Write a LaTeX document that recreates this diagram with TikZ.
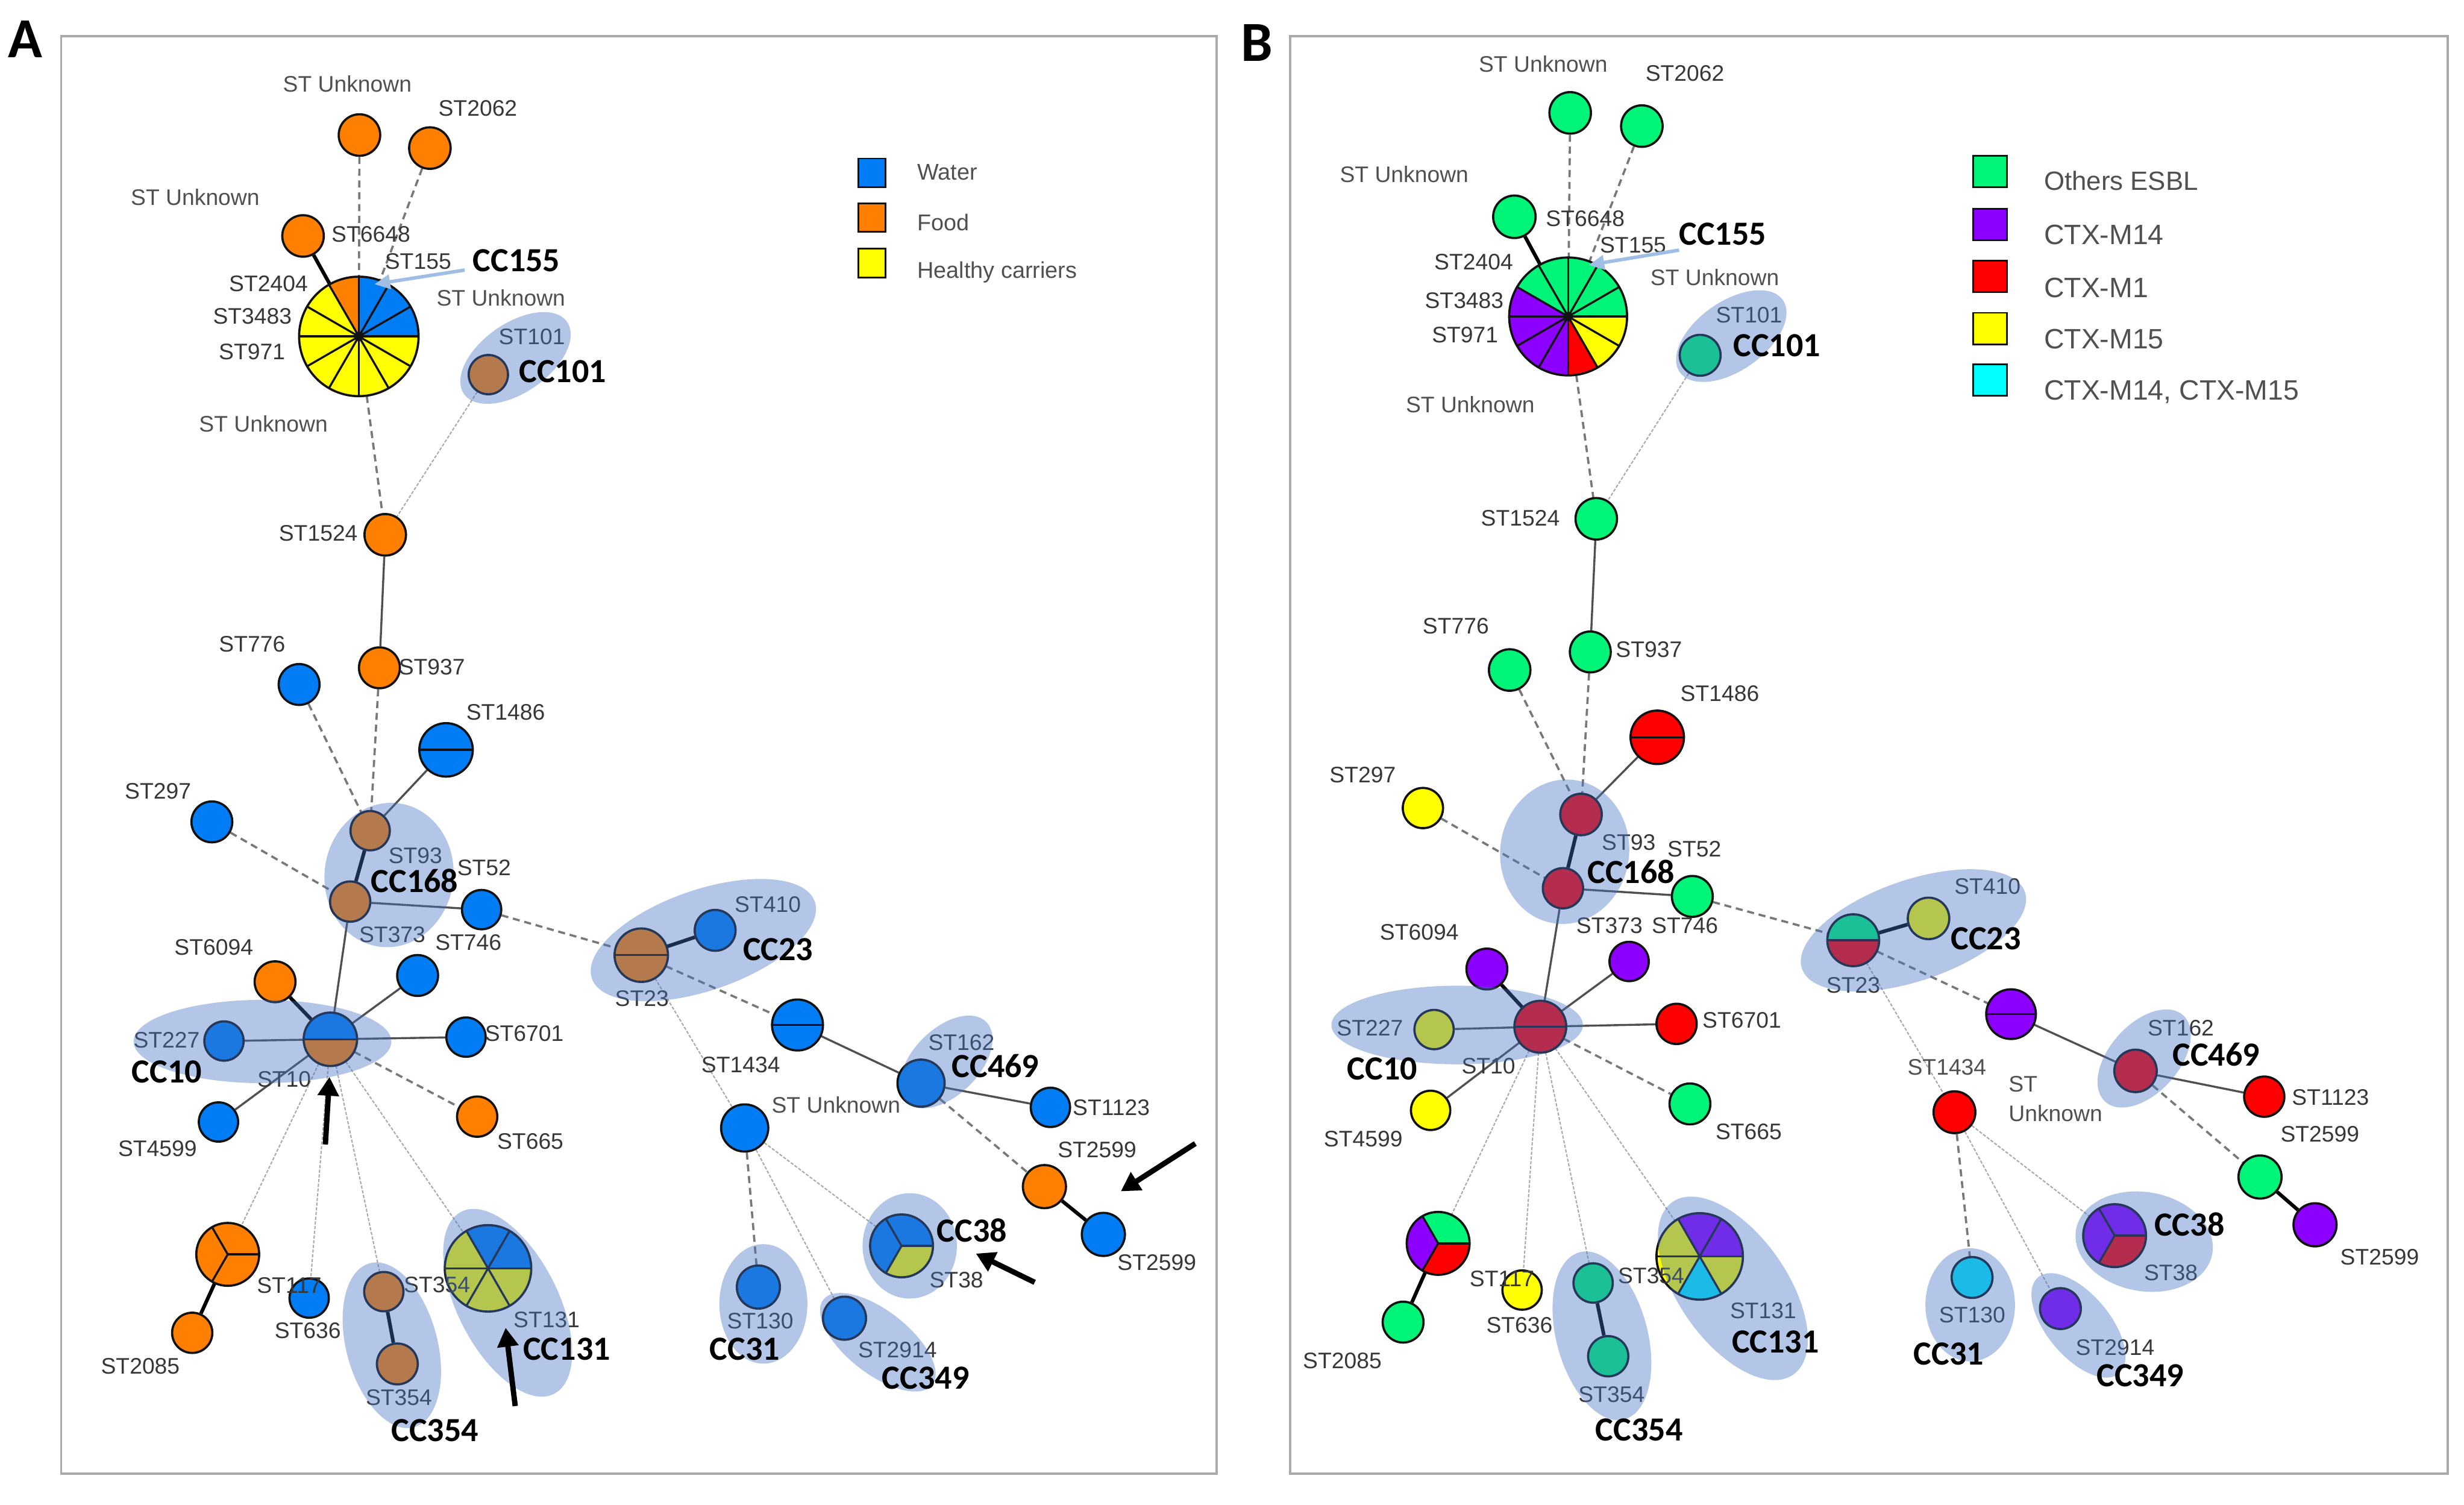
\documentclass[tikz,border=0pt]{standalone}
\usepackage{fontspec}
\setmainfont{Liberation Sans}
\newfontfamily\carl{Carlito}
\usetikzlibrary{shapes.geometric,arrows.meta}
\pgfdeclarelayer{bglayer}
\pgfdeclarelayer{edgelayer}
\pgfsetlayers{bglayer,edgelayer,main}
\definecolor{cB}{RGB}{0,125,245}
\definecolor{cO}{RGB}{255,128,0}
\definecolor{cY}{RGB}{255,255,0}
\definecolor{cG}{RGB}{0,245,120}
\definecolor{cP}{RGB}{140,0,255}
\definecolor{cR}{RGB}{255,0,0}
\definecolor{cC}{RGB}{0,235,255}
\definecolor{cCy}{RGB}{0,255,255}
\definecolor{ovl}{RGB}{68,114,196}
\definecolor{outl}{RGB}{18,18,18}
\definecolor{txt}{RGB}{55,55,55}
\definecolor{txtu}{RGB}{80,80,80}
\definecolor{legc}{RGB}{80,80,80}
\definecolor{edgec}{RGB}{80,80,80}
\definecolor{dashc}{RGB}{120,120,120}
\definecolor{thinc}{RGB}{170,170,170}
\definecolor{framec}{RGB}{170,170,170}
\definecolor{arrb}{RGB}{160,190,228}
\newcommand\pieslice[5]{\fill[#5] (#1.center) -- ++({-(#3)}:#2) arc[start angle={-(#3)}, end angle={-(#4)}, radius=#2] -- cycle;}
\newcommand\spokes[3]{\foreach \t in {#3} {\draw[draw=outl, line width=1.3pt] (#1.center) -- ++({-\t}:#2);}}
\newcommand\ring[2]{\draw[draw=outl, line width=1.4pt] (#1.center) circle[radius=#2];}
\newcommand\splitnd[7]{%
 \node[pien, minimum size=#5pt] (#1) at (#2,#3) {};
 \pieslice{#1}{#4}{0}{180}{#6}
 \pieslice{#1}{#4}{180}{360}{#7}
 \spokes{#1}{#4}{0,180}
 \ring{#1}{#4}}
\tikzset{
 stn/.style={circle, draw=outl, line width=1.4pt, inner sep=0pt},
 pien/.style={circle, draw=none, inner sep=0pt},
 lab/.style={inner sep=0pt, text=txt, font=\fontsize{14.3pt}{14.3pt}\selectfont, text height=10.2pt, text depth=0pt},
 labu/.style={lab, text=txtu},
 cclab/.style={inner sep=0pt, text=black, font=\carl\bfseries\fontsize{21.5pt}{21.5pt}\selectfont, text height=13.8pt, text depth=0pt},
 panl/.style={inner sep=0pt, text=black, font=\carl\bfseries\fontsize{36pt}{36pt}\selectfont, text height=23pt, text depth=0pt},
 ccov/.style={ellipse, fill=ovl, fill opacity=0.4, draw=none, inner sep=0pt},
 ethick/.style={draw=black, line width=2.3pt},
 emed/.style={draw=edgec, line width=1.3pt},
 edash/.style={draw=dashc, line width=1.4pt, dash pattern=on 4.5pt off 3pt},
 ethin/.style={draw=thinc, line width=0.8pt, dash pattern=on 2pt off 1pt},
 bigarrow/.style={-{Triangle[length=12pt,width=13pt]}, line width=3.4pt, draw=black},
 bluearrow/.style={-{Triangle[length=10pt,width=9pt]}, line width=2.2pt, draw=arrb, fill=arrb},
 legsq/.style={draw=outl, line width=1.1pt, inner sep=0pt},
 legA/.style={inner sep=0pt, anchor=west, text=legc, font=\fontsize{14.5pt}{14.5pt}\selectfont, text height=10.4pt, text depth=0pt},
 legB/.style={inner sep=0pt, anchor=west, text=legc, font=\fontsize{17.8pt}{17.8pt}\selectfont, text height=12.7pt, text depth=0pt},
 framest/.style={draw=framec, line width=1.5pt}
}
\begin{document}
\begin{tikzpicture}[x=1pt,y=-1pt]
\useasboundingbox (0,0) rectangle (1567.7,957);
\begin{pgfonlayer}{bglayer}
\fill[white] (0,0) rectangle (1567.7,957);
\end{pgfonlayer}
\draw[framest] (38.9,22.9) rectangle (774,937.5);
\draw[framest] (821,22.9) rectangle (1557.3,937.5);
\node[panl] (lblA) at (16.2,25.2) {A};
\node[panl] (lblB) at (799.5,27.5) {B};

% ================= PANEL A nodes =================
\node[stn, fill=cO, minimum size=26.4pt] (a-unk1) at (228.7,85.9) {};
\node[stn, fill=cO, minimum size=26.4pt] (a-2062) at (273.5,94.2) {};
\node[stn, fill=cO, minimum size=26.4pt] (a-6648) at (192.8,150.1) {};
\node[pien, minimum size=76pt] (a-pie) at (228.3,214) {};
\pieslice{a-pie}{38}{0}{90}{cB}
\pieslice{a-pie}{38}{90}{120}{cO}
\pieslice{a-pie}{38}{120}{360}{cY}
\spokes{a-pie}{38}{0,30,...,330}
\ring{a-pie}{38}
\fill[outl] (a-pie.center) circle[radius=3];
\node[stn, fill=cO, minimum size=25pt] (a-101) at (310.7,238.3) {};
\node[stn, fill=cO, minimum size=26.4pt] (a-1524) at (245.1,340.2) {};
\node[stn, fill=cO, minimum size=26pt] (a-937) at (241.4,424.8) {};
\node[stn, fill=cB, minimum size=26pt] (a-776) at (190.3,435.4) {};
\splitnd{a-1486}{283.8}{477}{17}{34}{cB}{cB}
\node[stn, fill=cB, minimum size=26pt] (a-297) at (134.8,522.8) {};
\node[stn, fill=cO, minimum size=25pt] (a-93) at (235.5,528.4) {};
\node[stn, fill=cO, minimum size=25.6pt] (a-373) at (222.8,573.5) {};
\node[stn, fill=cB, minimum size=25pt] (a-52) at (306.4,578.6) {};
\node[stn, fill=cO, minimum size=26pt] (a-6094) at (175,624.5) {};
\node[stn, fill=cB, minimum size=26pt] (a-b1) at (265.7,620.5) {};
\splitnd{a-10}{210.2}{661.1}{17}{34}{cB}{cO}
\node[stn, fill=cB, minimum size=25pt] (a-227) at (142.5,662.2) {};
\node[stn, fill=cB, minimum size=25pt] (a-6701) at (296.5,659.7) {};
\node[stn, fill=cO, minimum size=25.6pt] (a-665) at (303.6,710.3) {};
\node[stn, fill=cB, minimum size=25pt] (a-4599) at (139,713.7) {};
\splitnd{a-23}{408}{607.6}{17}{34}{cO}{cO}
\node[stn, fill=cB, minimum size=26pt] (a-410) at (455,591.8) {};
\splitnd{a-s2}{507.4}{652}{16.2}{32.4}{cB}{cB}
\node[stn, fill=cB, minimum size=30pt] (a-162) at (586,689) {};
\node[stn, fill=cB, minimum size=25pt] (a-1123) at (668.3,704.4) {};
\node[stn, fill=cB, minimum size=30pt] (a-1434) at (473.8,717.5) {};
\node[stn, fill=cO, minimum size=27.4pt] (a-2599o) at (664.5,754.8) {};
\node[stn, fill=cB, minimum size=27.4pt] (a-2599b) at (702,785.2) {};
\node[pien, minimum size=40pt] (a-38) at (573.6,792.5) {};
\pieslice{a-38}{20}{0}{240}{cB}
\pieslice{a-38}{20}{240}{360}{cY}
\spokes{a-38}{20}{0,120,240}
\ring{a-38}{20}
\node[stn, fill=cB, minimum size=27.4pt] (a-130) at (482.5,818.7) {};
\node[stn, fill=cB, minimum size=27.4pt] (a-2914) at (537.3,838.5) {};
\node[pien, minimum size=40pt] (a-p3) at (144.9,797.9) {};
\pieslice{a-p3}{20}{0}{360}{cO}
\spokes{a-p3}{20}{0,120,240}
\ring{a-p3}{20}
\node[stn, fill=cO, minimum size=25.6pt] (a-2085) at (122.3,847.8) {};
\node[stn, fill=cB, minimum size=25pt] (a-636) at (196.7,825.7) {};
\node[stn, fill=cO, minimum size=25pt] (a-354a) at (244.2,821.6) {};
\node[stn, fill=cO, minimum size=26pt] (a-354b) at (252.8,867.6) {};
\node[pien, minimum size=55pt] (a-131) at (310.5,806.8) {};
\pieslice{a-131}{27.5}{0}{120}{cB}
\pieslice{a-131}{27.5}{120}{360}{cY}
\spokes{a-131}{27.5}{0,60,...,300}
\ring{a-131}{27.5}

% ================= PANEL B nodes =================
\node[stn, fill=cG, minimum size=26.4pt] (b-unk1) at (999,71.8) {};
\node[stn, fill=cG, minimum size=26.4pt] (b-2062) at (1044.6,80.2) {};
\node[stn, fill=cG, minimum size=27pt] (b-6648) at (963.5,137.9) {};
\node[pien, minimum size=75pt] (b-pie) at (997.7,201.3) {};
\pieslice{b-pie}{37.5}{0}{150}{cG}
\pieslice{b-pie}{37.5}{150}{270}{cP}
\pieslice{b-pie}{37.5}{270}{300}{cR}
\pieslice{b-pie}{37.5}{300}{360}{cY}
\spokes{b-pie}{37.5}{0,30,...,330}
\ring{b-pie}{37.5}
\fill[outl] (b-pie.center) circle[radius=3];
\node[stn, fill=cG, minimum size=26pt] (b-101) at (1081.7,226) {};
\node[stn, fill=cG, minimum size=26.4pt] (b-1524) at (1015.6,330) {};
\node[stn, fill=cG, minimum size=26pt] (b-937) at (1011.8,414.7) {};
\node[stn, fill=cG, minimum size=26.4pt] (b-776) at (960.5,426.2) {};
\splitnd{b-1486}{1054.4}{469}{17}{34}{cR}{cR}
\node[stn, fill=cY, minimum size=25.6pt] (b-297) at (905.3,514) {};
\node[stn, fill=cR, minimum size=26.4pt] (b-93) at (1005.9,518.1) {};
\node[stn, fill=cR, minimum size=25.6pt] (b-373) at (994.4,565) {};
\node[stn, fill=cG, minimum size=26pt] (b-52) at (1076.7,570.2) {};
\node[stn, fill=cP, minimum size=26pt] (b-6094) at (946,616.4) {};
\node[stn, fill=cP, minimum size=25pt] (b-b1) at (1036.5,611.6) {};
\splitnd{b-10}{980}{653.1}{16.5}{33}{cR}{cR}
\node[stn, fill=cY, minimum size=25pt] (b-227) at (912.4,654.9) {};
\node[stn, fill=cR, minimum size=25.6pt] (b-6701) at (1066.7,651.3) {};
\node[stn, fill=cG, minimum size=26pt] (b-665) at (1075.2,702.2) {};
\node[stn, fill=cY, minimum size=25pt] (b-4599) at (910.2,706.3) {};
\splitnd{b-23}{1179.1}{598.1}{16.5}{33}{cG}{cR}
\node[stn, fill=cY, minimum size=26.4pt] (b-410) at (1227,584.2) {};
\splitnd{b-s2}{1279.5}{645.1}{15.8}{31.6}{cP}{cP}
\node[stn, fill=cR, minimum size=27pt] (b-162) at (1358.7,681.2) {};
\node[stn, fill=cR, minimum size=25.6pt] (b-1123) at (1440.6,697.6) {};
\node[stn, fill=cR, minimum size=26.6pt] (b-1434) at (1243.5,707.5) {};
\node[stn, fill=cG, minimum size=27.4pt] (b-2599g) at (1437.9,748.7) {};
\node[stn, fill=cP, minimum size=27.4pt] (b-2599p) at (1472.9,779.1) {};
\node[pien, minimum size=40pt] (b-38) at (1345.4,786) {};
\pieslice{b-38}{20}{0}{240}{cP}
\pieslice{b-38}{20}{240}{360}{cR}
\spokes{b-38}{20}{0,120,240}
\ring{b-38}{20}
\node[stn, fill=cC, minimum size=26pt] (b-130) at (1254.7,812.6) {};
\node[stn, fill=cP, minimum size=26pt] (b-2914) at (1310.9,832.4) {};
\node[pien, minimum size=40pt] (b-p3) at (915,790.9) {};
\pieslice{b-p3}{20}{0}{120}{cG}
\pieslice{b-p3}{20}{120}{240}{cP}
\pieslice{b-p3}{20}{240}{360}{cR}
\spokes{b-p3}{20}{0,120,240}
\ring{b-p3}{20}
\node[stn, fill=cG, minimum size=26pt] (b-2085) at (892.7,841) {};
\node[stn, fill=cY, minimum size=25pt] (b-636) at (968.4,820.6) {};
\node[stn, fill=cG, minimum size=25pt] (b-354a) at (1013.6,816.1) {};
\node[stn, fill=cG, minimum size=25.6pt] (b-354b) at (1023.2,862.7) {};
\node[pien, minimum size=55pt] (b-131) at (1081.4,799.2) {};
\pieslice{b-131}{27.5}{0}{120}{cP}
\pieslice{b-131}{27.5}{120}{240}{cY}
\pieslice{b-131}{27.5}{240}{300}{cC}
\pieslice{b-131}{27.5}{300}{360}{cY}
\spokes{b-131}{27.5}{0,60,...,300}
\ring{b-131}{27.5}

% ================= edges =================
\begin{pgfonlayer}{edgelayer}
\foreach \p in {a,b} {
\draw[edash] (\p-unk1) -- (\p-pie);
\draw[edash] (\p-2062) -- (\p-pie);
\draw[ethick] (\p-6648) -- (\p-pie);
\draw[edash] (\p-pie) -- (\p-1524);
\draw[ethin] (\p-101) -- (\p-1524);
\draw[emed] (\p-1524) -- (\p-937);
\draw[edash] (\p-937) -- (\p-93);
\draw[edash] (\p-776) -- (\p-93);
\draw[emed] (\p-1486) -- (\p-93);
\draw[ethick] (\p-93) -- (\p-373);
\draw[edash] (\p-297) -- (\p-373);
\draw[emed] (\p-373) -- (\p-52);
\draw[emed] (\p-373) -- (\p-10);
\draw[edash] (\p-52) -- (\p-23);
\draw[ethick] (\p-6094) -- (\p-10);
\draw[emed] (\p-b1) -- (\p-10);
\draw[emed] (\p-227) -- (\p-10);
\draw[emed] (\p-10) -- (\p-6701);
\draw[emed] (\p-4599) -- (\p-10);
\draw[edash] (\p-10) -- (\p-665);
\draw[ethin] (\p-10) -- (\p-p3);
\draw[ethin] (\p-10) -- (\p-636);
\draw[ethin] (\p-10) -- (\p-354a);
\draw[ethin] (\p-10) -- (\p-131);
\draw[ethick] (\p-23) -- (\p-410);
\draw[edash] (\p-23) -- (\p-s2);
\draw[ethin] (\p-23) -- (\p-1434);
\draw[emed] (\p-s2) -- (\p-162);
\draw[emed] (\p-162) -- (\p-1123);
\draw[edash] (\p-1434) -- (\p-130);
\draw[ethin] (\p-1434) -- (\p-38);
\draw[ethin] (\p-1434) -- (\p-2914);
\draw[ethick] (\p-p3) -- (\p-2085);
\draw[ethick] (\p-354a) -- (\p-354b);
}
\draw[edash] (a-162) -- (a-2599o);
\draw[ethick] (a-2599o) -- (a-2599b);
\draw[edash] (b-162) -- (b-2599g);
\draw[ethick] (b-2599g) -- (b-2599p);
\end{pgfonlayer}

% ================= labels A =================
\node[labu] (ta1) at (221,53.5) {ST Unknown};
\node[lab] (ta2) at (304,68.7) {ST2062};
\node[labu] (ta3) at (124.2,125.3) {ST Unknown};
\node[lab] (ta4) at (236,149) {ST6648};
\node[lab] (ta5) at (266,166) {ST155};
\node[labu] (ta6) at (318.7,189.4) {ST Unknown};
\node[lab] (ta7) at (170.8,180.2) {ST2404};
\node[lab] (ta8) at (160.6,201) {ST3483};
\node[lab] (ta9) at (160.3,223.6) {ST971};
\node[lab] (ta10) at (338.4,213.9) {ST101};
\node[labu] (ta11) at (167.6,269.5) {ST Unknown};
\node[lab] (ta12) at (202.5,339.1) {ST1524};
\node[lab] (ta13) at (160.4,409.4) {ST776};
\node[lab] (ta14) at (274.8,424) {ST937};
\node[lab] (ta15) at (321.7,452.8) {ST1486};
\node[lab] (ta16) at (100.5,502.9) {ST297};
\node[lab] (ta17) at (264.3,544) {ST93};
\node[lab] (ta18) at (308,551.6) {ST52};
\node[lab] (ta19) at (249.6,594.2) {ST373};
\node[lab] (ta20) at (298,599.4) {ST746};
\node[lab] (ta21) at (136,602.5) {ST6094};
\node[lab] (ta22) at (106,661.3) {ST227};
\node[lab] (ta23) at (180.8,686.2) {ST10};
\node[lab] (ta24) at (333.6,657.3) {ST6701};
\node[lab] (ta25) at (100.2,730.4) {ST4599};
\node[lab] (ta26) at (337.4,725.8) {ST665};
\node[lab] (ta27) at (488.5,575) {ST410};
\node[lab] (ta28) at (408.4,635) {ST23};
\node[lab] (ta29) at (611.7,662.8) {ST162};
\node[lab] (ta30) at (471.3,677.1) {ST1434};
\node[labu] (ta31) at (531.9,703) {ST Unknown};
\node[lab] (ta32) at (707,704.5) {ST1123};
\node[lab] (ta33) at (698,731.3) {ST2599};
\node[lab] (ta34) at (736,802.9) {ST2599};
\node[lab] (ta35) at (608.5,814.2) {ST38};
\node[lab] (ta36) at (483.7,840) {ST130};
\node[lab] (ta37) at (571,858.3) {ST2914};
\node[lab] (ta38) at (184,817.5) {ST117};
\node[lab] (ta39) at (195.8,846.1) {ST636};
\node[lab] (ta40) at (89.3,869) {ST2085};
\node[lab] (ta41) at (278,817.2) {ST354};
\node[lab] (ta42) at (253.8,888.8) {ST354};
\node[lab] (ta43) at (347.8,839.4) {ST131};

% ================= labels B =================
\node[labu] (tb1) at (981.8,40.6) {ST Unknown};
\node[lab] (tb2) at (1072,46.4) {ST2062};
\node[labu] (tb3) at (893.4,110.9) {ST Unknown};
\node[lab] (tb4) at (1008.6,139) {ST6648};
\node[lab] (tb5) at (1039,155.8) {ST155};
\node[labu] (tb6) at (1091,176.6) {ST Unknown};
\node[lab] (tb7) at (937.6,166.5) {ST2404};
\node[lab] (tb8) at (931.6,190.9) {ST3483};
\node[lab] (tb9) at (932.1,212.9) {ST971};
\node[lab] (tb10) at (1112.8,200.1) {ST101};
\node[labu] (tb11) at (935.4,257.2) {ST Unknown};
\node[lab] (tb12) at (967.3,329.3) {ST1524};
\node[lab] (tb13) at (926.2,398) {ST776};
\node[lab] (tb14) at (1049.1,413) {ST937};
\node[lab] (tb15) at (1094.2,440.8) {ST1486};
\node[lab] (tb16) at (867,492.8) {ST297};
\node[lab] (tb17) at (1036.2,535.7) {ST93};
\node[lab] (tb18) at (1078,540) {ST52};
\node[lab] (tb19) at (1024,588.5) {ST373};
\node[lab] (tb20) at (1072,588.5) {ST746};
\node[lab] (tb21) at (903,592.7) {ST6094};
\node[lab] (tb22) at (871.6,653.6) {ST227};
\node[lab] (tb23) at (947,678) {ST10};
\node[lab] (tb24) at (1108.2,648.7) {ST6701};
\node[lab] (tb25) at (867.3,724.3) {ST4599};
\node[lab] (tb26) at (1112.6,719.8) {ST665};
\node[lab] (tb27) at (1264.5,563.8) {ST410};
\node[lab] (tb28) at (1179.1,626.7) {ST23};
\node[lab] (tb29) at (1387.5,653.6) {ST162};
\node[labu] (tb30) at (1238.7,678.6) {ST1434};
\node[labu, anchor=west] (tb31) at (1277.8,689.3) {ST};
\node[labu, anchor=west] (tb32) at (1277.8,708.2) {Unknown};
\node[lab] (tb33) at (1482.7,697.8) {ST1123};
\node[lab] (tb34) at (1476,721.3) {ST2599};
\node[lab] (tb35) at (1514,799.5) {ST2599};
\node[lab] (tb36) at (1381.2,809.6) {ST38};
\node[lab] (tb37) at (1254.8,836.1) {ST130};
\node[lab] (tb38) at (1345.7,856.8) {ST2914};
\node[lab] (tb39) at (955.6,813.2) {ST117};
\node[lab] (tb40) at (966.7,842.6) {ST636};
\node[lab] (tb41) at (854,865.3) {ST2085};
\node[lab] (tb42) at (1050.5,811.3) {ST354};
\node[lab] (tb43) at (1025.3,886.7) {ST354};
\node[lab] (tb44) at (1121.8,833.4) {ST131};

% ================= clonal complex overlays =================
\node[ccov, minimum width=80pt, minimum height=44pt, rotate=35] (ov-a101) at (328,227.7) {};
\node[ccov, minimum width=82pt, minimum height=92pt, rotate=-8] (ov-a168) at (247.5,556.6) {};
\node[ccov, minimum width=164pt, minimum height=53pt] (ov-a10) at (167,662.5) {};
\node[ccov, minimum width=150pt, minimum height=64pt, rotate=19] (ov-a23) at (447.5,598) {};
\node[ccov, minimum width=72pt, minimum height=42pt, rotate=45] (ov-a469) at (602,675.5) {};
\node[ccov, minimum width=60pt, minimum height=67pt] (ov-a38) at (578.8,792.5) {};
\node[ccov, minimum width=56pt, minimum height=76pt] (ov-a31) at (485.7,829.4) {};
\node[ccov, minimum width=88pt, minimum height=40pt, rotate=-38] (ov-a349) at (558.5,853.8) {};
\node[ccov, minimum width=108pt, minimum height=58pt, rotate=-75] (ov-a354) at (249.3,855.7) {};
\node[ccov, minimum width=130pt, minimum height=64pt, rotate=-63] (ov-a131) at (323,828.7) {};
\node[ccov, minimum width=80pt, minimum height=44pt, rotate=35] (ov-b101) at (1101.5,213.8) {};
\node[ccov, minimum width=82pt, minimum height=92pt, rotate=-8] (ov-b168) at (995.5,541.8) {};
\node[ccov, minimum width=160pt, minimum height=50pt] (ov-b10) at (927.1,652) {};
\node[ccov, minimum width=150pt, minimum height=64pt, rotate=19] (ov-b23) at (1217.4,591.8) {};
\node[ccov, minimum width=74pt, minimum height=44pt, rotate=48] (ov-b469) at (1364.2,673.3) {};
\node[ccov, minimum width=88pt, minimum height=63pt, rotate=-10] (ov-b38) at (1364.2,789.8) {};
\node[ccov, minimum width=57pt, minimum height=72pt] (ov-b31) at (1253.5,830) {};
\node[ccov, minimum width=80pt, minimum height=40pt, rotate=-50] (ov-b349) at (1322.4,843.1) {};
\node[ccov, minimum width=110pt, minimum height=58pt, rotate=-75] (ov-b354) at (1019.2,849.7) {};
\node[ccov, minimum width=134pt, minimum height=69pt, rotate=-55] (ov-b131) at (1102.5,819.5) {};

% ================= CC labels =================
\node[cclab] (ca1) at (328.6,166) {CC155};
\node[cclab] (ca2) at (358,236.2) {CC101};
\node[cclab] (ca3) at (263.8,560.7) {CC168};
\node[cclab] (ca4) at (106.2,681.7) {CC10};
\node[cclab] (ca5) at (495,604) {CC23};
\node[cclab] (ca6) at (633.4,678.6) {CC469};
\node[cclab] (ca7) at (618.4,783.1) {CC38};
\node[cclab] (ca8) at (473.8,858.3) {CC31};
\node[cclab] (ca9) at (589,876.6) {CC349};
\node[cclab] (ca10) at (276.8,910.1) {CC354};
\node[cclab] (ca11) at (360.6,858.3) {CC131};
\node[cclab] (cb1) at (1096,148.8) {CC155};
\node[cclab] (cb2) at (1130.6,220) {CC101};
\node[cclab] (cb3) at (1037.8,554.8) {CC168};
\node[cclab] (cb4) at (879.5,680.1) {CC10};
\node[cclab] (cb5) at (1263.5,597) {CC23};
\node[cclab] (cb6) at (1410,671) {CC469};
\node[cclab] (cb7) at (1393,779.1) {CC38};
\node[cclab] (cb8) at (1239.8,861.4) {CC31};
\node[cclab] (cb9) at (1361.7,875.1) {CC349};
\node[cclab] (cb10) at (1042.9,909.7) {CC354};
\node[cclab] (cb11) at (1129.6,853.8) {CC131};

% ================= arrows =================
\coordinate (a-bl-s) at (295.7,171.8);
\coordinate (a-bl-e) at (238.2,180.8);
\draw[bluearrow] (a-bl-s) -- (a-bl-e);
\coordinate (b-bl-s) at (1068.3,159.1);
\coordinate (b-bl-e) at (1010.7,168.6);
\draw[bluearrow] (b-bl-s) -- (b-bl-e);
\coordinate (ar1s) at (207,728);
\coordinate (ar1e) at (209.6,685);
\draw[bigarrow] (ar1s) -- (ar1e);
\coordinate (ar2s) at (327.8,894.4);
\coordinate (ar2e) at (321.7,844.6);
\draw[bigarrow] (ar2s) -- (ar2e);
\coordinate (ar3s) at (658.3,815.7);
\coordinate (ar3e) at (620.9,797.4);
\draw[bigarrow] (ar3s) -- (ar3e);
\coordinate (ar4s) at (760.5,727.4);
\coordinate (ar4e) at (713.1,757.8);
\draw[bigarrow] (ar4s) -- (ar4e);

% ================= legends =================
\node[legsq, fill=cB, minimum width=17.5pt, minimum height=18.3pt] (lgA1) at (554.8,110) {};
\node[legsq, fill=cO, minimum width=17.5pt, minimum height=18.3pt] (lgA2) at (554.8,138.4) {};
\node[legsq, fill=cY, minimum width=17.5pt, minimum height=18.3pt] (lgA3) at (554.8,167.4) {};
\node[legA] (lgAt1) at (583.5,109.4) {Water};
\node[legA] (lgAt2) at (583.5,141.4) {Food};
\node[legA] (lgAt3) at (583.5,171.7) {Healthy carriers};
\node[legsq, fill=cG, minimum width=21.5pt, minimum height=20pt] (lgB1) at (1266,109.2) {};
\node[legsq, fill=cP, minimum width=21.5pt, minimum height=20pt] (lgB2) at (1266,142.8) {};
\node[legsq, fill=cR, minimum width=21.5pt, minimum height=20pt] (lgB3) at (1266,175.8) {};
\node[legsq, fill=cY, minimum width=21.5pt, minimum height=20pt] (lgB4) at (1266,209) {};
\node[legsq, fill=cCy, minimum width=21.5pt, minimum height=20pt] (lgB5) at (1266,241.8) {};
\node[legB, font=\fontsize{16.8pt}{16.8pt}\selectfont] (lgBt1) at (1300.3,114.6) {Others ESBL};
\node[legB] (lgBt2) at (1300.3,149.1) {CTX-M14};
\node[legB] (lgBt3) at (1300.3,182.7) {CTX-M1};
\node[legB] (lgBt4) at (1300.3,215.4) {CTX-M15};
\node[legB] (lgBt5) at (1300.3,248.1) {CTX-M14, CTX-M15};
\end{tikzpicture}
\end{document}
